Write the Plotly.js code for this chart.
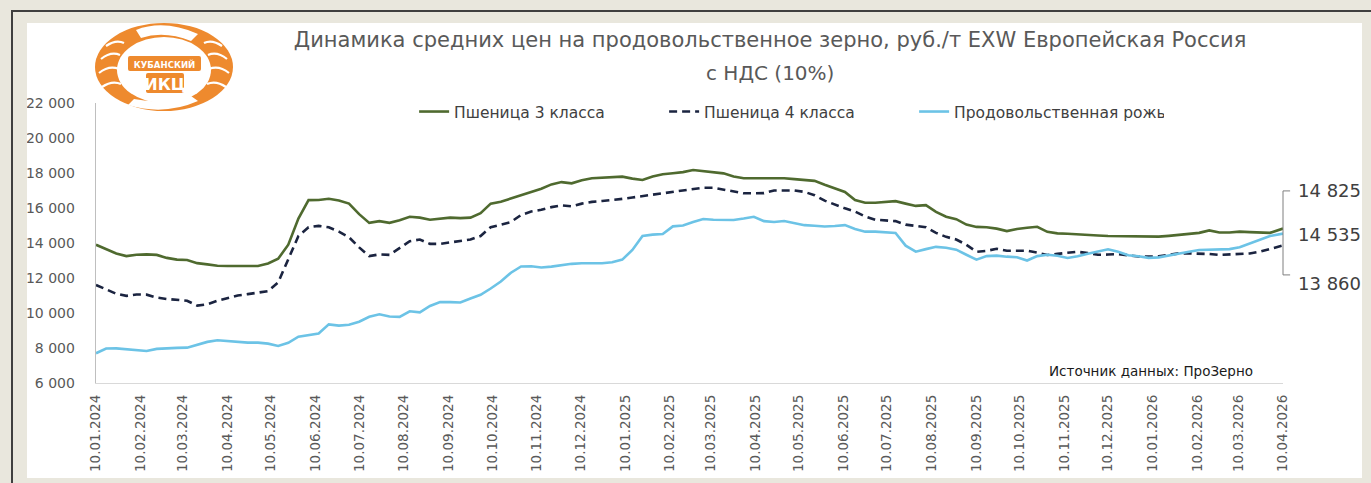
<!DOCTYPE html>
<html>
<head>
<meta charset="utf-8">
<script src="https://cdn.plot.ly/plotly-3.0.1.min.js"></script>
<style>
  html, body { margin:0; padding:0; width:1371px; height:483px; overflow:hidden; background:#e9e7dd; }
  #frameV { position:absolute; left:11px; top:10px; width:2px; height:473px; background:#3f3f3f; }
  #frameH { position:absolute; left:11px; top:10px; width:1360px; height:2px; background:#3f3f3f; }
  #panel { position:absolute; left:27px; top:23px; width:1335px; height:455px; background:#ffffff; overflow:hidden; }
  #chart { position:absolute; left:0; top:0; width:1335px; height:455px; }
  #logo { position:absolute; left:0; top:0; width:300px; height:130px; pointer-events:none; }
</style>
</head>
<body>
<div id="frameV"></div>
<div id="frameH"></div>
<div id="panel"><div id="chart"></div></div>
<svg id="logo" width="300" height="130" viewBox="0 0 300 130">
  <defs><clipPath id="clipTop"><rect x="27" y="23" width="273" height="107"/></clipPath></defs>
  <g clip-path="url(#clipTop)">
    <ellipse cx="164" cy="67" rx="69" ry="44" fill="#ee8a2e"/>
    <g stroke="#ffffff" stroke-width="2.2" fill="none">
      <path d="M106 46 Q116 39 124 43"/><path d="M101 59 Q111 51 120 55"/><path d="M99 73 Q109 65 119 69"/>
      <path d="M102 87 Q112 80 121 84"/><path d="M222 46 Q212 39 204 43"/><path d="M227 59 Q217 51 208 55"/>
      <path d="M229 73 Q219 65 209 69"/><path d="M226 87 Q216 80 207 84"/>
    </g>
    <ellipse cx="164" cy="70" rx="47" ry="33" fill="#ffffff"/>
    <path d="M136 30 Q164 19 198 34 L191 41 Q164 30 141 38 Z" fill="#ffffff"/>
    <path d="M128 105 Q164 116 198 101 L191 96 Q164 105 134 99 Z" fill="#ffffff"/>
    <rect x="128" y="56" width="73" height="15" rx="2" fill="#ee8a2e"/>
    <rect x="146" y="73" width="38" height="20" rx="2" fill="#ee8a2e"/>
    <text x="164.5" y="67.5" text-anchor="middle" font-family="DejaVu Sans Condensed, DejaVu Sans, sans-serif" font-weight="bold" font-size="9.5" fill="#ffffff">КУБАНСКИЙ</text>
    <text x="165" y="90" text-anchor="middle" font-family="DejaVu Sans, sans-serif" font-weight="bold" font-size="16" fill="#ffffff">ИКЦ</text>
  </g>
</svg>
<script>
// ---- data (weekly observations) ----
const dates = [
  '2024-01-10','2024-01-17','2024-01-24','2024-01-31','2024-02-07','2024-02-14','2024-02-21','2024-02-28',
  '2024-03-06','2024-03-13','2024-03-20','2024-03-27','2024-04-03','2024-04-10','2024-04-17','2024-04-24',
  '2024-05-01','2024-05-08','2024-05-15','2024-05-22','2024-05-29','2024-06-05','2024-06-12','2024-06-19',
  '2024-06-26','2024-07-03','2024-07-10','2024-07-17','2024-07-24','2024-07-31','2024-08-07','2024-08-14',
  '2024-08-21','2024-08-28','2024-09-04','2024-09-11','2024-09-18','2024-09-25','2024-10-02','2024-10-09',
  '2024-10-16','2024-10-23','2024-10-30','2024-11-06','2024-11-13','2024-11-20','2024-11-27','2024-12-04',
  '2024-12-11','2024-12-18','2024-12-25',
  '2025-01-01','2025-01-08','2025-01-15','2025-01-22','2025-01-29','2025-02-05','2025-02-12','2025-02-19',
  '2025-02-26','2025-03-05','2025-03-12','2025-03-19','2025-03-26','2025-04-02','2025-04-09','2025-04-16',
  '2025-04-23','2025-04-30','2025-05-07','2025-05-14','2025-05-21','2025-05-28','2025-06-04','2025-06-11',
  '2025-06-18','2025-06-25','2025-07-02','2025-07-09','2025-07-16','2025-07-23','2025-07-30','2025-08-06',
  '2025-08-13','2025-08-20','2025-08-27','2025-09-03','2025-09-10','2025-09-17','2025-09-24','2025-10-01',
  '2025-10-08','2025-10-15','2025-10-22','2025-10-29','2025-11-05','2025-11-12','2025-11-19','2025-11-26',
  '2025-12-03','2025-12-10','2025-12-17','2025-12-24','2025-12-31',
  '2026-01-07','2026-01-14','2026-01-21','2026-01-28','2026-02-04','2026-02-11','2026-02-18','2026-02-25',
  '2026-03-04','2026-03-11','2026-03-18','2026-03-25','2026-04-01','2026-04-10'
];

const wheat3 = [
  13900,13650,13400,13250,13330,13350,13320,13150,13050,13030,12850,12780,12700,12690,12690,12690,
  12690,12830,13100,13900,15400,16450,16460,16530,16430,16250,15650,15150,15250,15150,15300,15500,
  15450,15330,15370,15450,15420,15450,15700,16250,16360,16550,16750,16950,17100,17350,17480,17410,
  17580,17700,17730,17760,17790,17680,17600,17800,17930,17990,18050,18170,18120,18050,17980,17800,
  17700,17700,17700,17700,17700,17650,17590,17550,17330,17120,16920,16450,16300,16300,16340,16390,
  16250,16120,16160,15780,15500,15360,15050,14920,14900,14820,14680,14800,14870,14930,14640,14550,
  14530,14510,14470,14430,14400,14400,14400,14390,14380,14365,14410,14470,14520,14580,14720,14600,
  14600,14650,14620,14580,14580,14825
];

const wheat4 = [
  11600,11350,11100,10980,11060,11050,10880,10800,10750,10700,10420,10500,10700,10830,11000,11080,
  11150,11250,11750,13100,14400,14900,14980,14900,14650,14330,13750,13250,13350,13320,13700,14100,
  14200,13950,13950,14040,14100,14200,14400,14900,15050,15200,15600,15800,15900,16050,16150,16100,
  16250,16350,16400,16450,16520,16600,16680,16760,16850,16920,17000,17120,17160,17160,17040,16920,
  16840,16840,16850,17000,17020,17000,16920,16730,16420,16180,15980,15800,15520,15330,15276,15250,
  15050,14971,14900,14580,14350,14200,13900,13500,13550,13670,13560,13560,13560,13450,13314,13380,
  13440,13500,13420,13330,13340,13370,13300,13230,13220,13240,13320,13410,13410,13410,13370,13320,
  13340,13380,13400,13500,13640,13860
];

const rye = [
  7700,7970,7980,7930,7900,7830,7950,8000,8010,8020,8200,8350,8440,8400,8320,8305,
  8305,8250,8120,8300,8650,8760,8830,9350,9280,9330,9500,9780,9930,9800,9780,10100,
  10040,10400,10620,10620,10600,10830,11040,11400,11800,12300,12660,12670,12600,12650,12730,12810,
  12840,12840,12840,12900,13050,13600,14400,14480,14514,14950,15000,15200,15371,15330,15314,15314,
  15400,15500,15250,15200,15260,15150,15020,14990,14940,14970,15020,14800,14648,14648,14620,14570,
  13850,13505,13650,13780,13730,13620,13330,13050,13250,13280,13219,13190,13000,13250,13330,13270,
  13140,13240,13390,13510,13640,13500,13300,13240,13150,13180,13300,13400,13500,13600,13620,13600,
  13650,13760,13980,14200,14400,14535
];

const seriesNames = ['Пшеница 3 класса', 'Пшеница 4 класса', 'Продовольственная рожь'];

const monthTicks = [
  '2024-01-10','2024-02-10','2024-03-10','2024-04-10','2024-05-10','2024-06-10','2024-07-10',
  '2024-08-10','2024-09-10','2024-10-10','2024-11-10','2024-12-10','2025-01-10','2025-02-10',
  '2025-03-10','2025-04-10','2025-05-10','2025-06-10','2025-07-10','2025-08-10','2025-09-10',
  '2025-10-10','2025-11-10','2025-12-10','2026-01-10','2026-02-10','2026-03-10','2026-04-10'
];
const monthTickText = [
  '10.01.2024','10.02.2024','10.03.2024','10.04.2024','10.05.2024','10.06.2024','10.07.2024',
  '10.08.2024','10.09.2024','10.10.2024','10.11.2024','10.12.2024','10.01.2025','10.02.2025',
  '10.03.2025','10.04.2025','10.05.2025','10.06.2025','10.07.2025','10.08.2025','10.09.2025',
  '10.10.2025','10.11.2025','10.12.2025','10.01.2026','10.02.2026','10.03.2026','10.04.2026'
];

const titleLine1 = 'Динамика средних цен на продовольственное зерно, руб./т EXW Европейская Россия';
const titleLine2 = 'с НДС (10%)';
const sourceText = 'Источник данных: ПроЗерно';

// ---- helpers ----
function fmt(v) { return String(Math.round(v)).replace(/\B(?=(\d{3})+(?!\d))/g, ' '); }
const last = a => a[a.length - 1];

const FONT = 'DejaVu Sans, Verdana, sans-serif';

const traces = [
  { x: dates, y: wheat3, name: seriesNames[0], type: 'scatter', mode: 'lines',
    line: { color: '#4f6a2f', width: 2.6 } },
  { x: dates, y: wheat4, name: seriesNames[1], type: 'scatter', mode: 'lines',
    line: { color: '#1b2440', width: 2.6, dash: '8px,5px' } },
  { x: dates, y: rye, name: seriesNames[2], type: 'scatter', mode: 'lines',
    line: { color: '#6cc3e6', width: 2.6 } }
];

// right-side bracket & end labels (paper coords: plot area 1187 x 280 px)
const endVals = [last(wheat3), last(rye), last(wheat4)];
const labelY = [0.686, 0.529, 0.357];

const layout = {
  width: 1335, height: 455,
  margin: { l: 69, r: 79, t: 80, b: 95, pad: 0 },
  paper_bgcolor: '#ffffff', plot_bgcolor: '#ffffff',
  separators: ', ',
  showlegend: true,
  hovermode: false,
  title: { text: titleLine1, x: 0.5566, xanchor: 'center', xref: 'container',
           y: 1 - 17/455, yref: 'container', yanchor: 'middle',
           font: { family: FONT, size: 21, color: '#595959' } },
  legend: { orientation: 'h', x: 0.268, xanchor: 'left', y: 0.968, yanchor: 'middle',
            bgcolor: 'rgba(0,0,0,0)', font: { family: FONT, size: 15.5, color: '#404040' },
            entrywidth: 205, entrywidthmode: 'pixels', traceorder: 'normal' },
  xaxis: {
    type: 'date', range: [dates[0], last(dates)],
    tickmode: 'array', tickvals: monthTicks, ticktext: monthTickText,
    tickangle: -90, ticks: '', showgrid: false, zeroline: false,
    showline: true, linecolor: '#d9d9d9', linewidth: 1.3,
    ticklabelstandoff: 5,
    tickfont: { family: FONT, size: 13.5, color: '#595959' }
  },
  yaxis: {
    range: [6000, 22000], tickmode: 'linear', tick0: 6000, dtick: 2000,
    tickformat: ',d', ticks: '', showgrid: false, zeroline: false,
    showline: true, linecolor: '#bfbfbf', linewidth: 1.3,
    ticklabelstandoff: 17,
    tickfont: { family: FONT, size: 14, color: '#595959' }
  },
  shapes: [
    { type: 'line', xref: 'paper', yref: 'paper', x0: 1.0, x1: 1.0, y0: labelY[0], y1: 0.386,
      line: { color: '#7f7f7f', width: 1 } },
    { type: 'line', xref: 'paper', yref: 'paper', x0: 1.0, x1: 1.006, y0: labelY[0], y1: labelY[0],
      line: { color: '#7f7f7f', width: 1 } },
    { type: 'line', xref: 'paper', yref: 'paper', x0: 1.0, x1: 1.006, y0: 0.386, y1: 0.386,
      line: { color: '#7f7f7f', width: 1 } }
  ],
  annotations: [
    { text: titleLine2, xref: 'paper', yref: 'paper', x: (743 - 69) / 1187, xanchor: 'center',
      y: 1 + (80 - 50) / 280, yanchor: 'middle', showarrow: false,
      font: { family: FONT, size: 20, color: '#595959' } },
    { text: sourceText, xref: 'paper', yref: 'paper', x: (1255 - 96) / 1187, xanchor: 'right',
      y: 12 / 280, yanchor: 'middle', showarrow: false,
      font: { family: FONT, size: 13.5, color: '#1a1a1a' } }
  ].concat(endVals.map((v, i) => ({
      text: fmt(v), xref: 'paper', yref: 'paper', x: 1.011, xanchor: 'left',
      y: labelY[i], yanchor: 'middle', showarrow: false,
      font: { family: FONT, size: 18, color: '#404040' } })))
};

Plotly.newPlot('chart', traces, layout, { displayModeBar: false, staticPlot: true });
</script>
</body>
</html>
